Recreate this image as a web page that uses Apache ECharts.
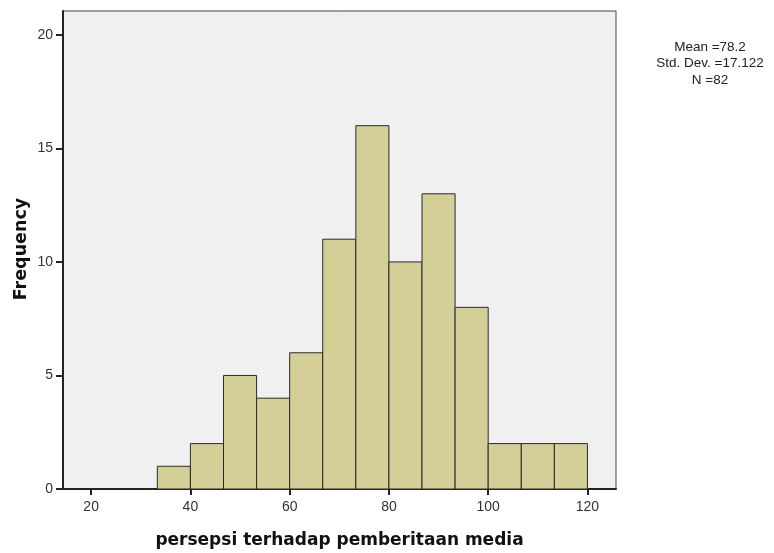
<!DOCTYPE html>
<html>
<head>
<meta charset="utf-8">
<script src="https://cdn.jsdelivr.net/npm/echarts@6/dist/echarts.min.js"></script>
<style>html,body{margin:0;padding:0;background:#fff;}#c{width:774px;height:553px;}</style>
</head>
<body>
<div id="c"></div>
<script>
// Histogram data
var binEdges = [33.333, 40, 46.667, 53.333, 60, 66.667, 73.333, 80, 86.667, 93.333, 100, 106.667, 113.333, 120];
var counts = [1, 2, 5, 4, 6, 11, 16, 10, 13, 8, 2, 2, 2];
var xTicks = [20, 40, 60, 80, 100, 120];
var yTicks = [0, 5, 10, 15, 20];
var statsLines = ['Mean =78.2', 'Std. Dev. =17.122', 'N =82'];
var xTitle = 'persepsi terhadap pemberitaan media';
var yTitle = 'Frequency';

var data = counts.map(function (c, i) { return [binEdges[i], binEdges[i + 1], c]; });

var graphics = statsLines.map(function (t, i) {
  return {
    type: 'text',
    style: { text: t, x: 710, y: 47 + i * 16.5, align: 'center', verticalAlign: 'middle',
      fontFamily: 'Liberation Sans', fontSize: 13.5, fill: '#222' }
  };
});
graphics.push({
  type: 'text', x: 21, y: 249, rotation: Math.PI / 2,
  style: { text: yTitle, x: 0, y: 0, align: 'center', verticalAlign: 'middle',
    fontFamily: 'DejaVu Sans', fontWeight: 'bold', fontSize: 17.5, fill: '#111' }
});

var chart = echarts.init(document.getElementById('c'));
chart.setOption({
  backgroundColor: '#ffffff',
  animation: false,
  grid: {
    left: 63, top: 11, right: 158, bottom: 64,
    outerBoundsMode: 'none', containLabel: false,
    show: true, backgroundColor: '#f0f0f0', borderColor: '#444', borderWidth: 1
  },
  xAxis: {
    type: 'value', min: 14.33, max: 125.75,
    name: xTitle, nameLocation: 'middle', nameGap: 43,
    nameTextStyle: { fontFamily: 'DejaVu Sans', fontWeight: 'bold', fontSize: 17, color: '#111' },
    axisLine: { show: true, lineStyle: { color: '#222', width: 2 } },
    axisTick: { show: true, length: 6, lineStyle: { color: '#222', width: 2 }, customValues: xTicks },
    axisLabel: { customValues: xTicks, margin: 11, fontFamily: 'Liberation Sans', fontSize: 14, color: '#333' },
    splitLine: { show: false }
  },
  yAxis: {
    type: 'value', min: 0, max: 21.05,
    axisLine: { show: true, lineStyle: { color: '#222', width: 2 } },
    axisTick: { show: true, length: 7, lineStyle: { color: '#222', width: 2 }, customValues: yTicks },
    axisLabel: { customValues: yTicks, margin: 10, fontFamily: 'Liberation Sans', fontSize: 14, color: '#333' },
    splitLine: { show: false }
  },
  series: [{
    type: 'custom',
    data: data,
    encode: { x: [0, 1], y: 2 },
    renderItem: function (params, api) {
      var p0 = api.coord([api.value(0), 0]);
      var p1 = api.coord([api.value(1), api.value(2)]);
      return {
        type: 'rect',
        shape: { x: p0[0], y: p1[1], width: p1[0] - p0[0], height: p0[1] - p1[1] },
        style: { fill: '#d4cf97', stroke: '#2a2a2a', lineWidth: 1 }
      };
    }
  }],
  graphic: graphics
});
</script>
</body>
</html>
